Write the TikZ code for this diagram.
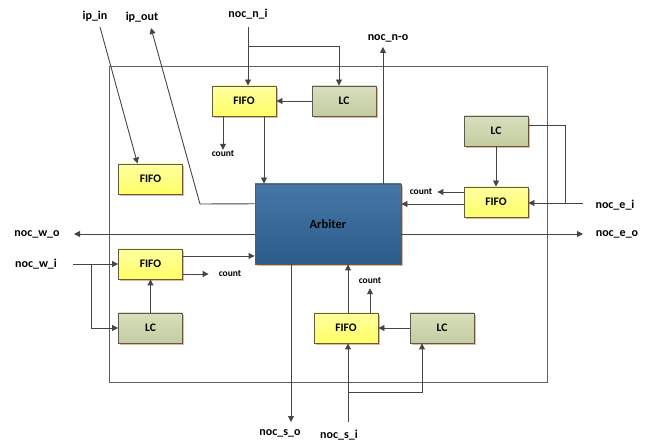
\documentclass[tikz,border=0pt]{standalone}
\usepackage{fontspec}
\setmainfont{Carlito}
\usetikzlibrary{arrows.meta,shadows,calc}
\definecolor{wirec}{HTML}{454545}
\definecolor{framec}{HTML}{606060}
\definecolor{boxline}{HTML}{5A5A5A}
\definecolor{shade}{HTML}{F2B48A}
\definecolor{fifotop}{HTML}{FFFFA0}
\definecolor{fifobot}{HTML}{FFFF66}
\definecolor{lctop}{HTML}{D8DFBD}
\definecolor{lcbot}{HTML}{C3CDA0}
\definecolor{arbtop}{HTML}{4377A8}
\definecolor{arbbot}{HTML}{2D5C89}
\tikzset{
  box/.style={draw=boxline, line width=0.9pt, minimum width=64pt, minimum height=30pt,
    inner sep=0pt, font=\bfseries\fontsize{11.5}{13}\selectfont,
    drop shadow={shadow xshift=1.6pt, shadow yshift=-1.6pt, fill=shade, opacity=1}},
  fifobox/.style={box, top color=fifotop, bottom color=fifobot},
  lcbox/.style={box, top color=lctop, bottom color=lcbot},
  arbbox/.style={box, minimum width=146pt, minimum height=80pt, top color=arbtop,
    bottom color=arbbot, font=\bfseries\fontsize{12.5}{14}\selectfont},
  port/.style={font=\bfseries\fontsize{12}{14}\selectfont, inner sep=1pt},
  cnt/.style={font=\bfseries\fontsize{9.5}{11}\selectfont, inner sep=1pt},
  wire/.style={draw=wirec, line width=0.9pt},
  flow/.style={wire, -{Triangle[length=6pt,width=6pt]}},
}
\begin{document}
\begin{tikzpicture}[x=1pt,y=-1pt]
\useasboundingbox (0,0) rectangle (645,443);

% router boundary
\draw[draw=framec, line width=0.8pt] (109,66) rectangle (547,382);

% blocks
\node[arbbox] (arb) at (328,224) {Arbiter};
\node[fifobox] (fifoN) at (244,101) {FIFO};
\node[lcbox] (lcN) at (344,101) {LC};
\node[fifobox] (fifoIP) at (150.5,179) {FIFO};
\node[lcbox] (lcE) at (496,131) {LC};
\node[fifobox] (fifoE) at (496,202) {FIFO};
\node[fifobox] (fifoW) at (150.5,264) {FIFO};
\node[lcbox] (lcW) at (150.5,328) {LC};
\node[fifobox] (fifoS) at (346,328) {FIFO};
\node[lcbox] (lcS) at (442,328) {LC};

% port labels
\node[port] (ipin) at (95,16) {ip\_in};
\node[port] (ipout) at (142,17) {ip\_out};
\node[port] (nni) at (248,14) {noc\_n\_i};
\node[port] (nno) at (388,38) {noc\_n-o};
\node[port] (nei) at (615,205) {noc\_e\_i};
\node[port] (neo) at (617,234) {noc\_e\_o};
\node[port] (nwo) at (37,234) {noc\_w\_o};
\node[port] (nwi) at (36,264) {noc\_w\_i};
\node[port] (nso) at (280,433) {noc\_s\_o};
\node[port] (nsi) at (339,435) {noc\_s\_i};

% count labels
\node[cnt] (cntN) at (223,154) {count};
\node[cnt] (cntE) at (421,192) {count};
\node[cnt] (cntW) at (230,274) {count};
\node[cnt] (cntS) at (370,281) {count};

% wire ends
\coordinate (ipinA) at (100,27);
\coordinate (ipoutA) at (151,28);
\coordinate (ipoutK) at (200,204);
\coordinate (nniA) at (248,27);
\coordinate (nniB) at (248,46);
\coordinate (nnoA) at (383,47);
\coordinate (neiA) at (583,203);
\coordinate (neiK) at (565,203);
\coordinate (neoA) at (583,234);
\coordinate (nwoA) at (74,234);
\coordinate (nwiA) at (73,264);
\coordinate (nwiK) at (91,264);
\coordinate (nsoA) at (291,422);
\coordinate (nsiA) at (348,422);
\coordinate (nsiK) at (348,392);

% local port
\draw[flow] (ipinA) -- ($(fifoIP.north west)!0.3!(fifoIP.north east)$);
\draw[flow] ($(arb.north west)!0.25!(arb.south west)$) -- (ipoutK) -- (ipoutA);

% north
\draw[flow] (nniA) -- (fifoN.north -| nniA);
\draw[flow] (nniB) -| ($(lcN.north)+(-5,0)$);
\draw[flow] (lcN.west) -- (fifoN.east);
\draw[flow] ($(fifoN.south)+(-21,0)$) coordinate (cN) -- (cntN);
\draw[flow] ($(fifoN.south)+(20,0)$) coordinate (aN) -- (aN |- arb.north);
\draw[flow] (arb.north -| nnoA) -- (nnoA);

% east
\draw[flow] (lcE.south) -- (fifoE.north);
\draw[flow] (neiA) -- (fifoE.east |- neiA);
\draw[wire] ($(lcE.east)+(0,-6)$) -| (neiK);
\draw[flow, shorten >=4pt] ($(fifoE.west)+(0,-10)$) -- (cntE);
\draw[flow] ($(fifoE.west)+(0,2)$) coordinate (aE) -- (aE -| arb.east);
\draw[flow] ($(arb.east)+(0,10)$) -- (neoA);

% west
\draw[flow] ($(arb.west)+(0,10)$) -- (nwoA);
\draw[flow] (nwiA) -- (fifoW.west);
\draw[flow] (nwiK) |- (lcW.west);
\draw[flow] (lcW.north) -- (fifoW.south);
\draw[flow] ($(fifoW.east)+(0,-8)$) coordinate (aW) -- (aW -| arb.west);
\draw[flow, shorten >=9pt] (fifoW.east |- cntW) -- (cntW);

% south
\draw[flow] (arb.south -| nsoA) -- (nsoA);
\draw[flow] (nsiA) -- (fifoS.south -| nsiA);
\draw[flow] (nsiK) -| ($(lcS.south)+(-20,0)$);
\draw[flow] (lcS.west) -- (fifoS.east);
\draw[flow] (fifoS.north -| nsiA) -- (arb.south -| nsiA);
\draw[flow, shorten >=3pt] (fifoS.north -| cntS) -- (cntS);
\end{tikzpicture}
\end{document}
